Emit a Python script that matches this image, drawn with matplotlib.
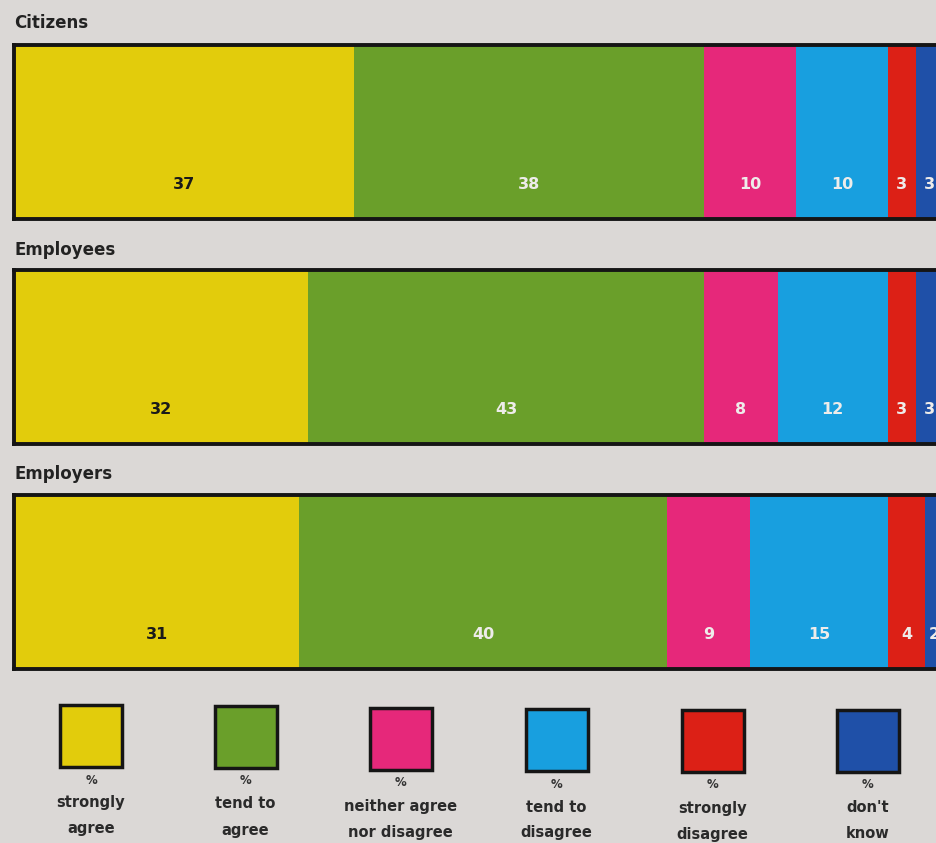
import matplotlib
matplotlib.use("Agg")
import matplotlib.pyplot as plt
import numpy as np

groups = ["Citizens", "Employees", "Employers"]
categories = ["strongly\nagree", "tend to\nagree", "neither agree\nnor disagree",
              "tend to\ndisagree", "strongly\ndisagree", "don't\nknow"]
citizens = [37, 38, 10, 10, 3, 3]
employees = [32, 43, 8, 12, 3, 3]
employers = [31, 40, 9, 15, 4, 2]
series = [citizens, employees, employers]

colors = ["#e2cc0c", "#6a9f2a", "#e6287a", "#189fdf", "#dc2016", "#1f50a8"]
text_colors = ["#1a1a1a", "#eeecea", "#eeecea", "#eeecea", "#eeecea", "#eeecea"]
bg = "#dbd8d6"

W, H = 936, 843
plt.rcParams['font.family'] = ['DejaVu Sans']
fig = plt.figure(figsize=(W / 100, H / 100), dpi=100, facecolor=bg)

px_per_pct = 9.2
left_px = 14
bar_tops = [45, 270, 495]
bar_h = 174
title_y = [23, 250, 474]

for g, vals, top, ty in zip(groups, series, bar_tops, title_y):
    ax = fig.add_axes([left_px / W, 1 - (top + bar_h) / H, (W - left_px) / W, bar_h / H])
    ax.set_facecolor(bg)
    lefts = np.concatenate([[0], np.cumsum(vals)[:-1]])
    ax.barh(0, vals, left=lefts, height=1.0, color=colors, edgecolor="none")
    ax.set_xlim(0, (W - left_px) / px_per_pct)
    ax.set_ylim(-0.5, 0.5)
    for v, l, tc in zip(vals, lefts, text_colors):
        ax.text(l + v / 2, -0.3, str(v), ha="center", va="center", color=tc,
                fontsize=11.5, fontweight="bold", clip_on=True)
    ax.set_xticks([]); ax.set_yticks([])
    for s in ["left", "top", "bottom"]:
        ax.spines[s].set_linewidth(2.8)
        ax.spines[s].set_color("#151515")
    ax.spines["right"].set_visible(False)
    fig.text(left_px / W, 1 - ty / H, g, ha="left", va="center", fontsize=12,
             fontweight="bold", color="#222222")

# legend
lax = fig.add_axes([0, 0, 1, 1])
lax.set_xlim(0, W)
lax.set_ylim(H, 0)
lax.axis("off")
lax.patch.set_alpha(0)
centers = [91, 245.5, 400.5, 556.5, 712.5, 867.5]
box_tops = [705, 706, 708, 709, 710, 710]
lax.bar(centers, 62, bottom=box_tops, width=62, color=colors, edgecolor="#151515", linewidth=2.5)
for c, bt, lab in zip(centers, box_tops, categories):
    lax.text(c, bt + 75, "%", ha="center", va="center", fontsize=8.5, fontweight="bold", color="#333333")
    lines = lab.split("\n")
    for i, ln in enumerate(lines):
        lax.text(c, bt + 98 + i * 26, ln, ha="center", va="center", fontsize=10.5,
                 fontweight="bold", color="#2a2a2a")

fig.savefig("out.png", dpi=100, facecolor=bg)
